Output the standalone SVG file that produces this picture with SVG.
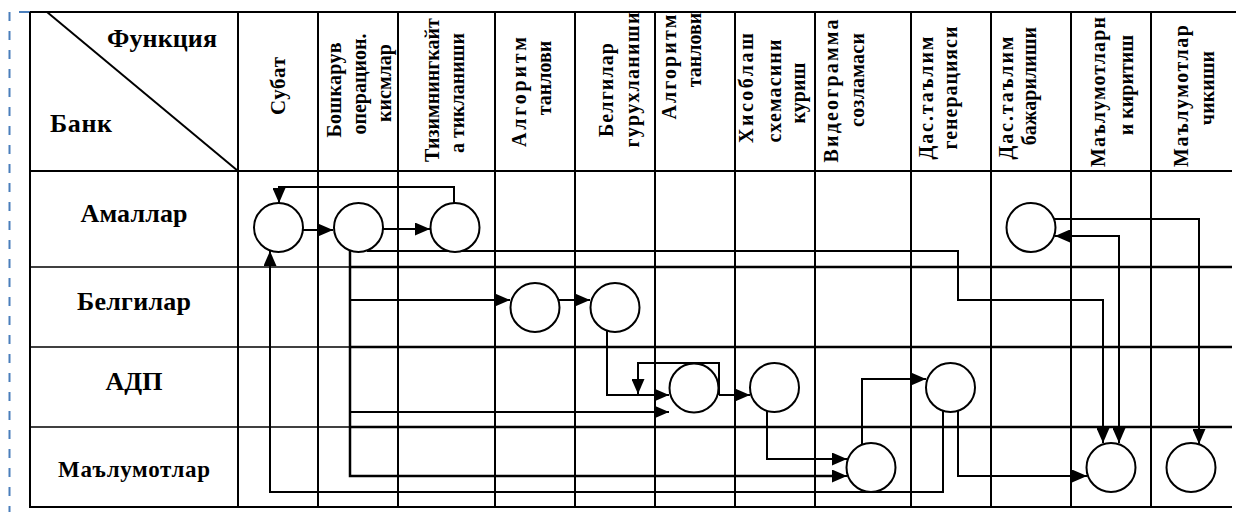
<svg xmlns="http://www.w3.org/2000/svg" width="1236" height="512" viewBox="0 0 1236 512">
<style>
.t{font-family:"Liberation Serif","Times New Roman",serif;font-weight:bold;fill:#000}
.h{font-size:20px}
.r{font-size:26px}
.g{stroke:#000;stroke-width:2;fill:none}
.thin{stroke:#000;stroke-width:1.5;fill:none}
.lane{stroke:#000;stroke-width:2.5;fill:none}
.n{fill:#fff;stroke:#000;stroke-width:2}
.c{stroke:#000;stroke-width:2;fill:none}
</style>
<defs>
<marker id="arr" viewBox="0 0 15 13" refX="15" refY="6.5" markerWidth="15" markerHeight="13" markerUnits="userSpaceOnUse" orient="auto-start-reverse"><path d="M0,0 L15,6.5 L0,13 z" fill="#000"/></marker>
</defs>
<rect width="1236" height="512" fill="#fff"/>
<g id="frame">
<line x1="9.5" y1="12" x2="9.5" y2="512" stroke="#4a7ebb" stroke-width="2" stroke-dasharray="9 10"/>
<line x1="19" y1="12" x2="30" y2="12" stroke="#4a7ebb" stroke-width="2"/>
</g>
<g id="table">
<line class="g" x1="30" y1="12" x2="1236" y2="12"/>
<line class="g" x1="30" y1="12" x2="30" y2="508"/>
<line class="g" x1="30" y1="507" x2="1232" y2="507"/>
<line class="g" x1="30" y1="171" x2="1232" y2="171"/>
<line class="thin" x1="30" y1="267" x2="350" y2="267"/>
<line class="thin" x1="30" y1="347" x2="350" y2="347"/>
<line class="thin" x1="30" y1="427" x2="350" y2="427"/>
<line class="lane" x1="350" y1="267" x2="1232" y2="267"/>
<line class="lane" x1="350" y1="347" x2="1232" y2="347"/>
<line class="lane" x1="350" y1="427" x2="1232" y2="427"/>
<path class="g" d="M238 12V507M318 12V507M398 12V507M495 12V507M575 12V507M655 12V507M735 12V507M815 12V507M911 12V507M991 12V507M1071 12V507M1151 12V507"/>
<line class="g" x1="47" y1="12" x2="238" y2="171"/>
</g>
<g id="header">
<text class="t r" x="107" y="47" textLength="110" lengthAdjust="spacing">Функция</text>
<text class="t r" x="50" y="132" textLength="62" lengthAdjust="spacing">Банк</text>
<text class="t" font-size="21" transform="translate(285 86) rotate(-90)" text-anchor="middle" textLength="58" lengthAdjust="spacing">Субат</text>
<g class="t h" text-anchor="middle">
<text transform="translate(341 90) rotate(-90)" textLength="95" lengthAdjust="spacing">Бошкарув</text>
<text transform="translate(366 84) rotate(-90)">операцион.</text>
<text transform="translate(391 83) rotate(-90)">кисмлар</text>
<text transform="translate(439 90) rotate(-90)">Тизимнингкайт</text>
<text transform="translate(464 93) rotate(-90)" textLength="120" lengthAdjust="spacing">а тикланиши</text>
<text transform="translate(526 92) rotate(-90)" textLength="110" lengthAdjust="spacing">Алгоритм</text>
<text transform="translate(551 78) rotate(-90)">танлови</text>
<text transform="translate(613 90) rotate(-90)" textLength="94" lengthAdjust="spacing">Белгилар</text>
<text transform="translate(639 80) rotate(-90)" textLength="135" lengthAdjust="spacing">гурухланиши</text>
<text transform="translate(676 67) rotate(-90)" textLength="105" lengthAdjust="spacing">Алгоритм</text>
<text transform="translate(701 50) rotate(-90)">танлови</text>
<text transform="translate(753 88) rotate(-90)" textLength="110" lengthAdjust="spacing">Хисоблаш</text>
<text transform="translate(781 91) rotate(-90)" textLength="103" lengthAdjust="spacing">схемасини</text>
<text transform="translate(805 93) rotate(-90)">куриш</text>
<text transform="translate(838 91) rotate(-90)" textLength="143" lengthAdjust="spacing">Видеограмма</text>
<text transform="translate(864 80) rotate(-90)" textLength="94" lengthAdjust="spacing">созламаси</text>
<text transform="translate(933 98) rotate(-90)" textLength="123" lengthAdjust="spacing">Дас.таълим</text>
<text transform="translate(957 88) rotate(-90)" textLength="123" lengthAdjust="spacing">генерацияси</text>
<text transform="translate(1013 98) rotate(-90)" textLength="123" lengthAdjust="spacing">Дас.таълим</text>
<text transform="translate(1036 86) rotate(-90)">бажарилиши</text>
<text transform="translate(1105 92) rotate(-90)" textLength="150" lengthAdjust="spacing">Маълумотларн</text>
<text transform="translate(1133 85) rotate(-90)">и киритиш</text>
<text transform="translate(1188 96) rotate(-90)" textLength="142" lengthAdjust="spacing">Маълумотлар</text>
<text transform="translate(1214 88) rotate(-90)">чикиши</text>
</g>
</g>
<g id="lanes" class="t r" text-anchor="middle">
<text x="134" y="222" textLength="107" lengthAdjust="spacing">Амаллар</text>
<text x="134" y="310" textLength="114" lengthAdjust="spacing">Белгилар</text>
<text x="134" y="390" textLength="57" lengthAdjust="spacing">АДП</text>
<text x="134" y="477" font-size="23" textLength="152" lengthAdjust="spacing">Маълумотлар</text>
</g>
<g id="connectors">
<path class="c" d="M303 230H333" marker-end="url(#arr)"/>
<path class="c" d="M383 229H430" marker-end="url(#arr)"/>
<path class="c" d="M454 203V187H279V203" marker-end="url(#arr)"/>
<path class="c" d="M943 411V492H270V251" marker-end="url(#arr)"/>
<path class="lane" d="M350 251V476H840"/>
<path class="c" d="M840 476H847" marker-end="url(#arr)"/>
<path class="c" d="M350 300H510" marker-end="url(#arr)"/>
<path class="c" d="M350 412H669" marker-end="url(#arr)"/>
<path class="c" d="M559 300H590" marker-end="url(#arr)"/>
<path class="c" d="M607 331V395H669" marker-end="url(#arr)"/>
<path class="c" d="M719 395H750" marker-end="url(#arr)"/>
<path class="c" d="M719 395V363H638V394" marker-end="url(#arr)"/>
<path class="c" d="M767 411V459H847" marker-end="url(#arr)"/>
<path class="c" d="M862 444V379H926" marker-end="url(#arr)"/>
<path class="c" d="M958 410V476H1087" marker-end="url(#arr)"/>
<path class="c" d="M367 251H958V300H1103V443" marker-end="url(#arr)"/>
<path class="c" d="M1055 236H1119V443" marker-start="url(#arr)" marker-end="url(#arr)"/>
<path class="c" d="M1054 219H1199V444" marker-end="url(#arr)"/>
</g>
<g id="node-a1"><circle class="n" cx="278.5" cy="227.5" r="24.5"/></g>
<g id="node-a2"><circle class="n" cx="358.5" cy="227.5" r="24.5"/></g>
<g id="node-a3"><circle class="n" cx="455" cy="227.5" r="24.5"/></g>
<g id="node-a4"><circle class="n" cx="1031" cy="227.5" r="24.5"/></g>
<g id="node-b1"><circle class="n" cx="535" cy="307.5" r="24.5"/></g>
<g id="node-b2"><circle class="n" cx="615" cy="307.5" r="24.5"/></g>
<g id="node-c1"><circle class="n" cx="694" cy="388" r="24.5"/></g>
<g id="node-c2"><circle class="n" cx="774.5" cy="387.5" r="24.5"/></g>
<g id="node-c3"><circle class="n" cx="950.5" cy="387.5" r="24.5"/></g>
<g id="node-d1"><circle class="n" cx="871" cy="467.5" r="24.5"/></g>
<g id="node-d2"><circle class="n" cx="1111" cy="467.5" r="24.5"/></g>
<g id="node-d3"><circle class="n" cx="1191" cy="467.5" r="24.5"/></g>
</svg>
